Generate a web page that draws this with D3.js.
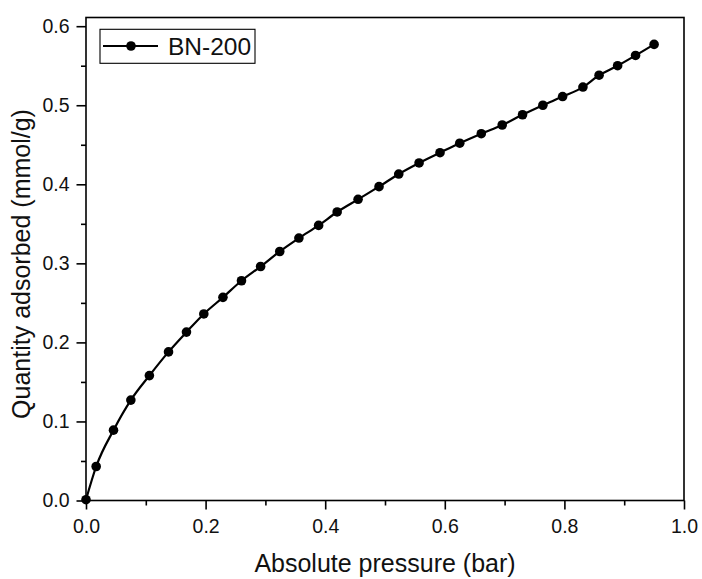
<!DOCTYPE html>
<html>
<head>
<meta charset="utf-8">
<script src="https://cdn.jsdelivr.net/npm/d3@7"></script>
<style>
  html, body { margin: 0; padding: 0; background: #fff; }
  svg { display: block; font-family: "Liberation Sans", Arial, sans-serif; }
</style>
</head>
<body>
<svg id="chart" width="702" height="579"></svg>
<script>
const seriesName = "BN-200";
const pressure = [0, 0.017, 0.046, 0.075, 0.106, 0.138, 0.168, 0.197, 0.229, 0.260, 0.292, 0.324, 0.356, 0.389, 0.420, 0.455, 0.490, 0.523, 0.557, 0.592, 0.625, 0.661, 0.696, 0.730, 0.764, 0.797, 0.831, 0.858, 0.889, 0.919, 0.950];
const adsorbed = [0.001, 0.043, 0.089, 0.127, 0.158, 0.188, 0.213, 0.236, 0.257, 0.278, 0.296, 0.315, 0.332, 0.348, 0.365, 0.381, 0.397, 0.413, 0.427, 0.440, 0.452, 0.464, 0.475, 0.488, 0.500, 0.511, 0.523, 0.538, 0.550, 0.563, 0.577];
const xTicks = [0, 0.2, 0.4, 0.6, 0.8, 1.0];
const xMinor = [0.1, 0.3, 0.5, 0.7, 0.9];
const yTicks = [0, 0.1, 0.2, 0.3, 0.4, 0.5, 0.6];
const yMinor = [0.05, 0.15, 0.25, 0.35, 0.45, 0.55];
const xTitle = "Absolute pressure (bar)";
const yTitle = "Quantity adsorbed (mmol/g)";

const svg = d3.select("#chart");
const L = 86, R = 684, T = 17.5, B = 500.5;
const x = d3.scaleLinear().domain([0, 1]).range([L, R]);
const y = d3.scaleLinear().domain([0, 0.611]).range([B, T]);

const data = pressure.map((p, i) => ({ x: p, y: adsorbed[i] }));

// minor ticks
const gx = svg.append("g").attr("transform", `translate(0,${B})`);
gx.call(d3.axisBottom(x).tickValues(xMinor).tickSize(5).tickFormat(""));
const gy = svg.append("g").attr("transform", `translate(${L},0)`);
gy.call(d3.axisLeft(y).tickValues(yMinor).tickSize(5).tickFormat(""));

// major ticks
const gx2 = svg.append("g").attr("transform", `translate(0,${B})`)
  .call(d3.axisBottom(x).tickValues(xTicks).tickSize(9).tickPadding(9.5).tickFormat(d3.format(".1f")));
const gy2 = svg.append("g").attr("transform", `translate(${L},0)`)
  .call(d3.axisLeft(y).tickValues(yTicks).tickSize(9.5).tickPadding(7).tickFormat(d3.format(".1f")));

svg.selectAll(".domain").remove();
svg.selectAll(".tick line").attr("stroke", "#000").attr("stroke-width", 1.6);
svg.selectAll(".tick text").attr("fill", "#111").style("font-size", "19.5px").style("font-family", "'Liberation Sans', Arial, sans-serif");

// frame
svg.append("rect").attr("x", L).attr("y", T).attr("width", R - L).attr("height", B - T)
  .attr("fill", "none").attr("stroke", "#000").attr("stroke-width", 1.6);

// line
const line = d3.line().x(d => x(d.x)).y(d => y(d.y)).curve(d3.curveMonotoneX);
svg.append("path").datum(data).attr("d", line)
  .attr("fill", "none").attr("stroke", "#000").attr("stroke-width", 2.2);

svg.append("g").selectAll("circle").data(data).join("circle")
  .attr("cx", d => x(d.x)).attr("cy", d => y(d.y)).attr("r", 4.8).attr("fill", "#000");

// legend
const lg = svg.append("g");
lg.append("rect").attr("x", 100).attr("y", 29.3).attr("width", 155).attr("height", 34)
  .attr("fill", "#fff").attr("stroke", "#000").attr("stroke-width", 1.1);
lg.append("line").attr("x1", 103).attr("x2", 158).attr("y1", 46).attr("y2", 46)
  .attr("stroke", "#000").attr("stroke-width", 2.2);
lg.append("circle").attr("cx", 131).attr("cy", 46).attr("r", 4.8).attr("fill", "#000");
lg.append("text").attr("x", 168).attr("y", 54.5).text(seriesName)
  .style("font-size", "24.5px").attr("fill", "#111");

// titles
svg.append("text").attr("x", (L + R) / 2).attr("y", 572).attr("text-anchor", "middle")
  .style("font-size", "25px").attr("fill", "#111").text(xTitle);
svg.append("text").attr("transform", "translate(30,264) rotate(-90)").attr("text-anchor", "middle")
  .style("font-size", "25px").attr("fill", "#111").text(yTitle);
</script>
</body>
</html>
